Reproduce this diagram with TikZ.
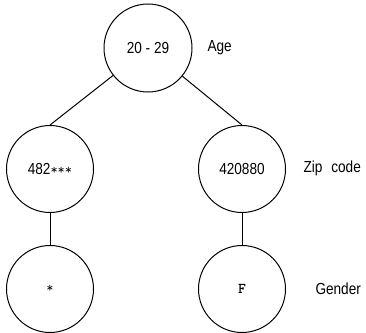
\documentclass[tikz,border=0pt]{standalone}
\usepackage{fontspec}
\setmainfont{Liberation Sans}
\newfontfamily\narrowfont[FakeStretch=0.85]{Liberation Sans}
\usetikzlibrary{positioning}

\tikzset{
    vertex/.style={draw, circle, minimum size=87pt, inner sep=0pt, font=\narrowfont\fontsize{16}{18}\selectfont},
    level/.style={font=\narrowfont\fontsize{16}{18}\selectfont}
}

\begin{document}
\begin{tikzpicture}[x=1pt, y=-1pt, line width=1pt]
    \useasboundingbox (0,0) rectangle (366,332);

    % 树的结点
    \node[vertex, minimum size=88pt] (age) at (148,48) {20 - 29};
    \node[vertex] (zipl) at (50,169) {482{\ttfamily\fontsize{14}{16}\selectfont ***}};
    \node[vertex] (zipr) at (242,169) {420880};
    \node[vertex] (genl) at (50,289) {\ttfamily\fontsize{14}{16}\selectfont *};
    \node[vertex] (genr) at (242,289) {\ttfamily\bfseries\fontsize{15}{17}\selectfont F};

    % 连线
    \draw (age) -- (zipl.north);
    \draw (age) -- (zipr.north);
    \draw (zipl) -- (genl);
    \draw (zipr) -- (genr);

    % 右侧的属性名
    \node[level, anchor=west, inner sep=0pt] (agelabel) at (207,48) {Age};
    \node[level, anchor=west, inner sep=0pt] (ziplabel) at (303,168) {Zip\hspace{9pt}code};
    \node[level, anchor=west, inner sep=0pt] (genlabel) at (315,289) {Gender};
\end{tikzpicture}
\end{document}
